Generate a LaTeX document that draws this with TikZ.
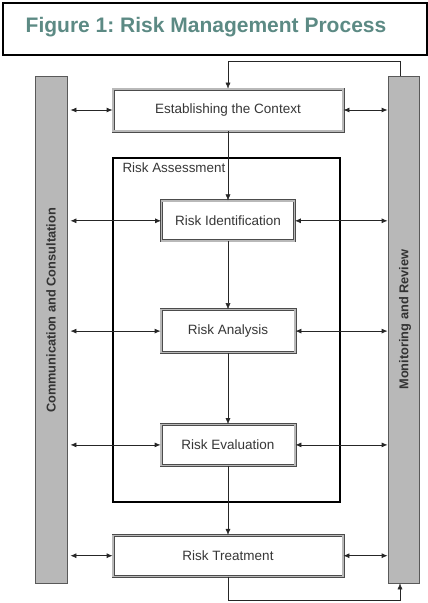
\documentclass[tikz,border=0pt]{standalone}
\usepackage{fontspec}
\setmainfont{Liberation Sans}
\usepackage{tikz}
\usetikzlibrary{arrows,arrows.meta,shapes}
\usetikzlibrary{positioning}
\usetikzlibrary{calc}
\definecolor{titlecol}{RGB}{92,138,132}
\definecolor{textgray}{RGB}{55,55,55}
\definecolor{barfill}{RGB}{184,184,184}
\tikzstyle{step box} = [draw = black!70, double = gray!55, double distance = 1.4pt, line width = 0.8pt, rectangle, fill = white, text = textgray, font = \fontsize{13.5}{15}\selectfont]
\tikzstyle{bar} = [draw = black!65, fill = barfill, rectangle, line width = 0.8pt, minimum width = 32pt, minimum height = 507pt]
\tikzstyle{bartext} = [rotate = 90, font = \bfseries\fontsize{12.8}{14}\selectfont, text = black!80]
\tikzstyle{arrow} = [{Latex[length=6pt,width=5pt]}-{Latex[length=6pt,width=5pt]}, thick, black!85]
\tikzstyle{flow} = [-{Latex[length=6pt,width=5pt]}, thin, black!85]

\begin{document}
\frenchspacing
\begin{tikzpicture}

		\useasboundingbox (0pt,0pt) rectangle (428pt,-603pt);

		% Title
		\draw[line width = 1.6pt] (3pt,-3pt) rectangle (427pt,-55pt);
		\node[text = titlecol, font = \bfseries\fontsize{21}{24}\selectfont] (title) at (206pt,-27pt) {Figure 1: Risk Management Process};

		% Side bars
		\node[bar] (comm) at (51pt,-329.5pt) {};
		\node[bar, minimum width = 31pt] (monitor) at (403.5pt,-329.5pt) {};
		\node[bartext] (commtext) at ($(comm.center) + (0pt,19pt)$) {Communication and Consultation};
		\node[bartext] (monitortext) at ($(monitor.center) + (1.5pt,10pt)$) {Monitoring and Review};
		\coordinate (mtop) at ($(monitor.north) + (-3.5pt,0pt)$);
		\coordinate (mbot) at ($(monitor.south) + (-3.5pt,0pt)$);

		% Main steps
		\node[step box, minimum width = 230pt, minimum height = 42pt] (context) at (228pt,-110pt) {Establishing the Context};
		\node[step box, minimum width = 133pt, minimum height = 40pt, below = 69pt of context] (ident) {Risk Identification};
		\node[step box, minimum width = 134pt, minimum height = 43pt, below = 68pt of ident] (analysis) {Risk Analysis};
		\node[step box, minimum width = 134pt, minimum height = 41pt, below = 71pt of analysis] (evaluation) {Risk Evaluation};
		\node[step box, minimum width = 230pt, minimum height = 41pt, below = 69pt of evaluation] (treatment) {Risk Treatment};

		% Risk assessment frame
		\draw[line width = 1.4pt] (113pt,-158pt) rectangle (340pt,-502pt);
		\node[anchor = west, text = textgray, font = \fontsize{13.4}{15}\selectfont] (assess) at (119pt,-168pt) {Risk Assessment};

		% Feedback loops
		\coordinate (looptop) at ($(mtop) + (0pt,14pt)$);
		\coordinate (loopbot) at (mbot |- 0pt,-600pt);
		\draw[flow] (mtop) -- (looptop) -- (looptop -| context.north) -- (context.north);
		\draw[flow] (treatment.south) -- (treatment.south |- loopbot) -- (loopbot) -- (mbot);

		% Flow between steps
		\draw[flow] (context.south) -- (ident.north);
		\draw[flow] (ident.south) -- (analysis.north);
		\draw[flow] (analysis.south) -- (evaluation.north);
		\draw[flow] (evaluation.south) -- (treatment.north);

		% Links to both bars
		\foreach \s in {context, ident, analysis, evaluation, treatment} {
			\draw[arrow] ($(comm.east |- \s.west) + (3pt,0pt)$) -- (\s.west);
			\draw[arrow] (\s.east) -- (monitor.west |- \s.east);
		}

\end{tikzpicture}
\end{document}
